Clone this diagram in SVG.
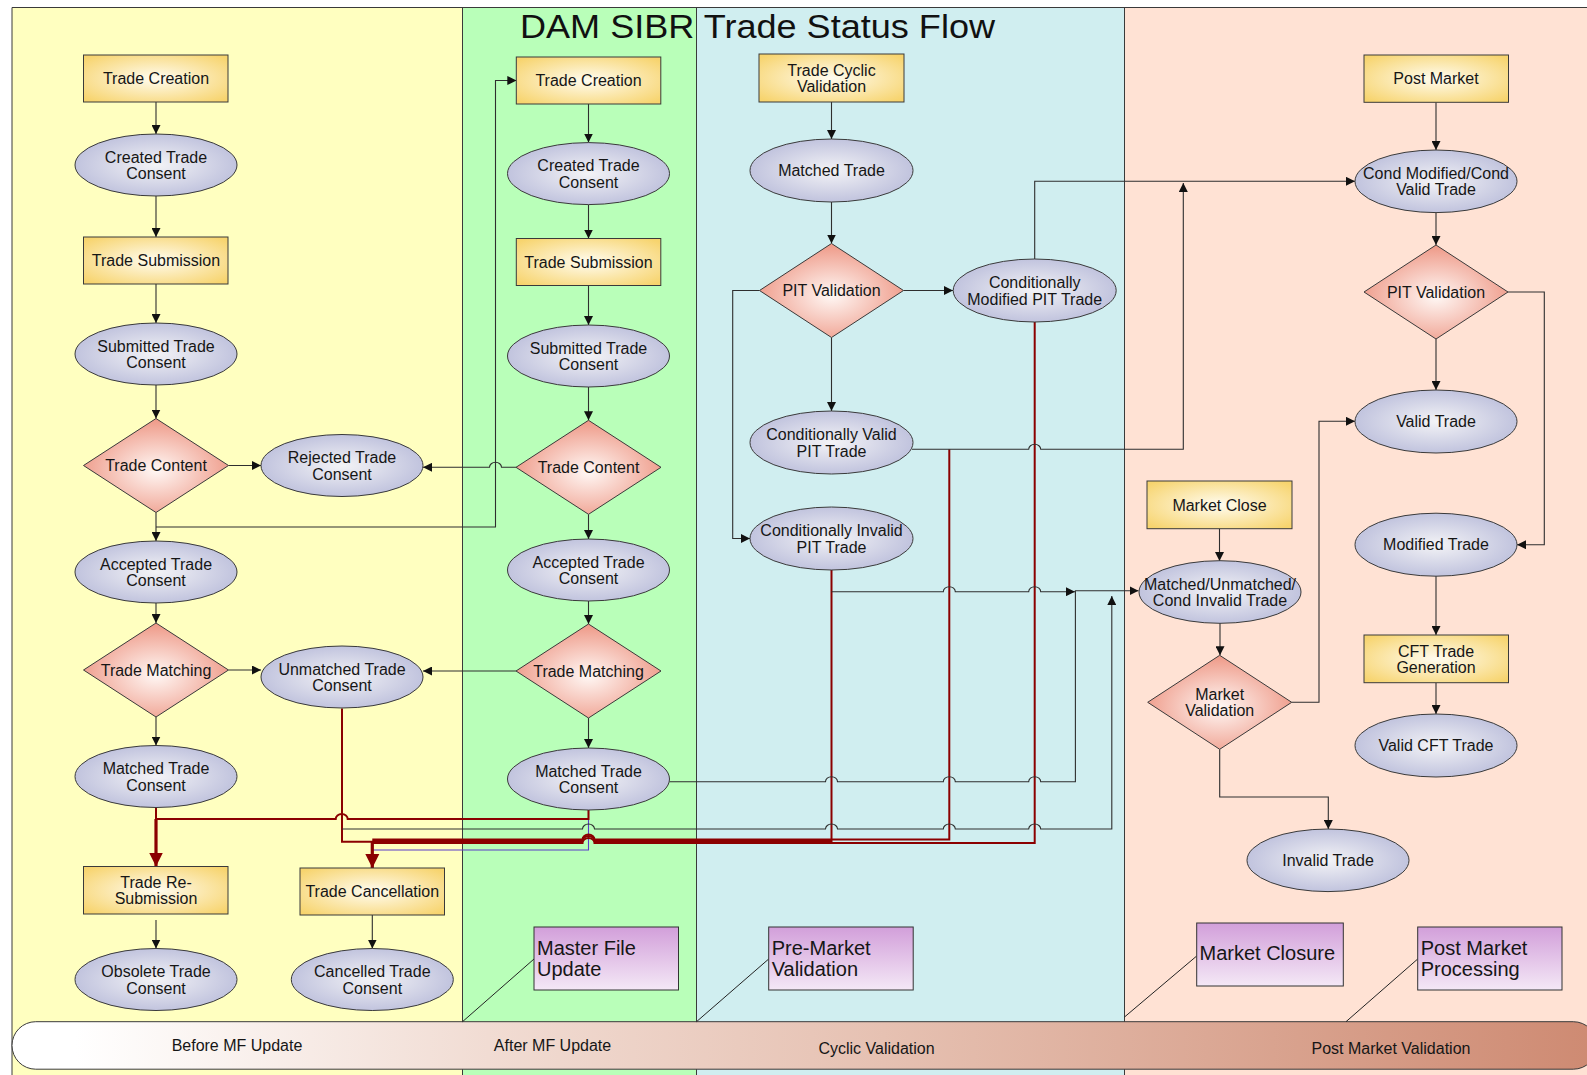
<svg xmlns="http://www.w3.org/2000/svg" width="1587" height="1075" viewBox="0 0 1587 1075">
<defs>
<style>
.box{fill:url(#gBox);stroke:#3a3a3a;stroke-width:1}
.ell{fill:url(#gEll);stroke:#3a3a3a;stroke-width:1}
.dia{fill:url(#gDia);stroke:#3a3a3a;stroke-width:1}
.note{fill:url(#gNote);stroke:#333;stroke-width:1}
.t{font-family:"Liberation Sans",Arial,sans-serif;font-size:16px;fill:#161616;text-anchor:middle}
.tn{font-family:"Liberation Sans",Arial,sans-serif;font-size:20px;fill:#161616;text-anchor:start}
.c{fill:none;stroke:#2e2e2e;stroke-width:1.1}
.pu{fill:none;stroke:#5a3cc8;stroke-width:1.1}
.r{fill:none;stroke:#8b0000;stroke-width:2}
.rt{fill:none;stroke:#8b0000;stroke-width:3.2}
.lane{stroke:none}
.div{stroke:#3a3a3a;stroke-width:1}
.call{stroke:#222;stroke-width:1;fill:none}
</style>
<radialGradient id="gBox" cx="50%" cy="50%" r="65%"><stop offset="0" stop-color="#FFFCF0"/><stop offset="1" stop-color="#F7D46E"/></radialGradient>
<radialGradient id="gEll" cx="50%" cy="50%" r="60%"><stop offset="0" stop-color="#F3F3F6"/><stop offset="1" stop-color="#B7BAD9"/></radialGradient>
<radialGradient id="gDia" cx="50%" cy="55%" r="55%"><stop offset="0" stop-color="#FFF8F5"/><stop offset="1" stop-color="#EE9886"/></radialGradient>
<linearGradient id="gNote" x1="0" y1="0" x2="0" y2="1"><stop offset="0" stop-color="#D29FDA"/><stop offset="1" stop-color="#F4E8F6"/></linearGradient>
<linearGradient id="gPill" x1="0" y1="0" x2="1" y2="0"><stop offset="0" stop-color="#FFFFFF"/><stop offset="0.04" stop-color="#FFFFFF"/><stop offset="0.3" stop-color="#F1DCD3"/><stop offset="0.55" stop-color="#E6C1B2"/><stop offset="1" stop-color="#CE8A72"/></linearGradient>
<marker id="a" viewBox="0 0 10 10" refX="10" refY="5" markerWidth="9" markerHeight="9" markerUnits="userSpaceOnUse" orient="auto"><path d="M0,0 L10,5 L0,10 z" fill="#111"/></marker>
<marker id="ar" viewBox="0 0 10 10" refX="10" refY="5" markerWidth="14" markerHeight="15" markerUnits="userSpaceOnUse" orient="auto"><path d="M0,0 L10,5 L0,10 z" fill="#8b0000"/></marker>
</defs>

<g id="lanes">
<rect x="0" y="0" width="1587" height="1075" fill="#ffffff"/>
<rect class="lane" x="12" y="7.5" width="450.5" height="1067.5" fill="#FFFFC0"/>
<rect class="lane" x="462.5" y="7.5" width="234" height="1067.5" fill="#B9FFB9"/>
<rect class="lane" x="696.5" y="7.5" width="428" height="1067.5" fill="#D0EEF0"/>
<rect class="lane" x="1124.5" y="7.5" width="462.5" height="1067.5" fill="#FFE2D4"/>
<line class="div" x1="12" y1="7.5" x2="1587" y2="7.5"/>
<line class="div" x1="12" y1="7.5" x2="12" y2="1075"/>
<line class="div" x1="462.5" y1="7.5" x2="462.5" y2="1075"/>
<line class="div" x1="696.5" y1="7.5" x2="696.5" y2="1075"/>
<line class="div" x1="1124.5" y1="7.5" x2="1124.5" y2="1075"/>
</g>

<text id="title" x="520" y="37.5" font-family="'Liberation Sans',Arial,sans-serif" font-size="33" fill="#111" textLength="475" lengthAdjust="spacingAndGlyphs">DAM SIBR Trade Status Flow</text>

<g id="phasebar">
<rect x="12" y="1021.7" width="1585" height="47.5" rx="23.7" ry="23.7" fill="url(#gPill)" stroke="#3a3a3a" stroke-width="1"/>
<text class="t" x="237" y="1050.7">Before MF Update</text>
<text class="t" x="552.5" y="1050.7">After MF Update</text>
<text class="t" x="876.5" y="1054">Cyclic Validation</text>
<text class="t" x="1391" y="1054">Post Market Validation</text>
</g>

<g id="connectors">
<!-- yellow lane -->
<path class="c" d="M156,102 V134" marker-end="url(#a)"/>
<path class="c" d="M156,196 V237" marker-end="url(#a)"/>
<path class="c" d="M156,284 V323" marker-end="url(#a)"/>
<path class="c" d="M156,385 V418.5" marker-end="url(#a)"/>
<path class="c" d="M228.5,465.5 H261" marker-end="url(#a)"/>
<path class="c" d="M156,512.5 V541" marker-end="url(#a)"/>
<path class="c" d="M156,527 H495.5 V80.5 H516.3" marker-end="url(#a)"/>
<path class="c" d="M516.3,467.3 H501.5 A6,5 0 0 0 489.5,467.3 H423" marker-end="url(#a)"/>
<path class="c" d="M156,603 V623" marker-end="url(#a)"/>
<path class="c" d="M228.5,670 H261" marker-end="url(#a)"/>
<path class="c" d="M516.3,671 H423" marker-end="url(#a)"/>
<path class="c" d="M156,717 V745.5" marker-end="url(#a)"/>
<path class="c" d="M156,920 V948.5" marker-end="url(#a)"/>
<path class="c" d="M372.3,915 V948.5" marker-end="url(#a)"/>
<!-- green lane -->
<path class="c" d="M588.5,104 V142.5" marker-end="url(#a)"/>
<path class="c" d="M588.5,204.6 V238.5" marker-end="url(#a)"/>
<path class="c" d="M588.5,285.5 V325" marker-end="url(#a)"/>
<path class="c" d="M588.5,387 V420.3" marker-end="url(#a)"/>
<path class="c" d="M588.5,514.3 V539" marker-end="url(#a)"/>
<path class="c" d="M588.5,601 V624" marker-end="url(#a)"/>
<path class="c" d="M588.5,718 V748" marker-end="url(#a)"/>
<!-- red / purple bundle to re-submission and cancellation -->
<path class="pu" d="M588.5,810 V850 H372.3"/>
<path class="r" d="M156,807.5 V819"/>
<path class="r" d="M588.5,810 V819 H347.7 A6,5 0 0 0 335.7,819 H156"/>
<path class="rt" d="M156,819 V866.5" marker-end="url(#ar)"/>
<path class="r" d="M342,708.5 V841.7 H372.3"/>
<path class="r" d="M831.5,570 V841 H594.5 A6,5 0 0 0 582.5,841 H372.3"/>
<path class="r" d="M949.3,449.3 V839.5 H594.5 A6,5 0 0 0 582.5,839.5 H372.3"/>
<path class="r" d="M1034.7,321.5 V843 H594.5 A6,5 0 0 0 582.5,843 H372.3"/>
<path class="rt" d="M372.3,841 V868" marker-end="url(#ar)"/>
<path class="c" d="M342,829 H582.5 A6,5 0 0 1 594.5,829 H825.5 A6,5 0 0 1 837.5,829 H943.3 A6,5 0 0 1 955.3,829 H1028.7 A6,5 0 0 1 1040.7,829 H1111.8 V596" marker-end="url(#a)"/>
<path class="c" d="M669.5,781.7 H825.5 A6,5 0 0 1 837.5,781.7 H943.3 A6,5 0 0 1 955.3,781.7 H1028.7 A6,5 0 0 1 1040.7,781.7 H1075.4 V590.7 H1138.5" marker-end="url(#a)"/>
<!-- cyan lane -->
<path class="c" d="M831.5,102 V139" marker-end="url(#a)"/>
<path class="c" d="M831.5,202 V243.5" marker-end="url(#a)"/>
<path class="c" d="M903.5,290.5 H953" marker-end="url(#a)"/>
<path class="c" d="M831.5,337.5 V411" marker-end="url(#a)"/>
<path class="c" d="M759.5,290.5 H732.7 V538.5 H750" marker-end="url(#a)"/>
<path class="c" d="M1034.7,259 V181.3 H1355" marker-end="url(#a)"/>
<path class="c" d="M912,449.3 H1028.7 A6,5 0 0 1 1040.7,449.3 H1183.3 V183" marker-end="url(#a)"/>
<path class="c" d="M831.5,591.7 H943.3 A6,5 0 0 1 955.3,591.7 H1028.7 A6,5 0 0 1 1040.7,591.7 H1075" marker-end="url(#a)"/>
<!-- peach lane -->
<path class="c" d="M1436,102.3 V150" marker-end="url(#a)"/>
<path class="c" d="M1436,212.7 V245" marker-end="url(#a)"/>
<path class="c" d="M1436,339 V390" marker-end="url(#a)"/>
<path class="c" d="M1508,292 H1544.3 V544.7 H1517" marker-end="url(#a)"/>
<path class="c" d="M1436,576 V635" marker-end="url(#a)"/>
<path class="c" d="M1436,682.7 V714" marker-end="url(#a)"/>
<path class="c" d="M1219.5,528.7 V561" marker-end="url(#a)"/>
<path class="c" d="M1220,623 V655.3" marker-end="url(#a)"/>
<path class="c" d="M1291.7,702.3 H1319 V421.3 H1355" marker-end="url(#a)"/>
<path class="c" d="M1219.7,749.3 V797 H1328.3 V829" marker-end="url(#a)"/>
<!-- callouts -->
<path class="call" d="M534,959 L462.5,1021.7"/>
<path class="call" d="M768.7,959 L696.5,1021.7"/>
<path class="call" d="M1196.7,956 L1124.5,1017"/>
<path class="call" d="M1417.7,959 L1346,1021.7"/>
</g>

<!-- yellow lane nodes -->
<g id="n_tc1"><rect class="box" x="83.5" y="55" width="144.5" height="47"/><text class="t" x="156" y="84">Trade Creation</text></g>
<g id="n_ctc1"><ellipse class="ell" cx="156" cy="165" rx="81" ry="31"/><text class="t" x="156" y="162.5">Created Trade</text><text class="t" x="156" y="179">Consent</text></g>
<g id="n_ts1"><rect class="box" x="83.5" y="237" width="144.5" height="47"/><text class="t" x="156" y="266">Trade Submission</text></g>
<g id="n_stc1"><ellipse class="ell" cx="156" cy="354" rx="81" ry="31"/><text class="t" x="156" y="351.5">Submitted Trade</text><text class="t" x="156" y="368">Consent</text></g>
<g id="n_tcont1"><polygon class="dia" points="156,418.5 228.5,465.5 156,512.5 83.5,465.5"/><text class="t" x="156" y="471">Trade Content</text></g>
<g id="n_rtc"><ellipse class="ell" cx="342" cy="465.5" rx="81" ry="31"/><text class="t" x="342" y="463">Rejected Trade</text><text class="t" x="342" y="479.5">Consent</text></g>
<g id="n_atc1"><ellipse class="ell" cx="156" cy="572" rx="81" ry="31"/><text class="t" x="156" y="569.5">Accepted Trade</text><text class="t" x="156" y="586">Consent</text></g>
<g id="n_tm1"><polygon class="dia" points="156,623 228.5,670 156,717 83.5,670"/><text class="t" x="156" y="675.5">Trade Matching</text></g>
<g id="n_utc"><ellipse class="ell" cx="342" cy="677" rx="81" ry="31"/><text class="t" x="342" y="674.5">Unmatched Trade</text><text class="t" x="342" y="691">Consent</text></g>
<g id="n_mtc1"><ellipse class="ell" cx="156" cy="776.5" rx="81" ry="31"/><text class="t" x="156" y="774">Matched Trade</text><text class="t" x="156" y="790.5">Consent</text></g>
<g id="n_trs"><rect class="box" x="83.5" y="866.5" width="144.5" height="47.5"/><text class="t" x="156" y="887.5">Trade Re-</text><text class="t" x="156" y="904">Submission</text></g>
<g id="n_otc"><ellipse class="ell" cx="156" cy="979.5" rx="81" ry="31"/><text class="t" x="156" y="977">Obsolete Trade</text><text class="t" x="156" y="993.5">Consent</text></g>
<g id="n_tcan"><rect class="box" x="300" y="868" width="144.5" height="47"/><text class="t" x="372.3" y="897">Trade Cancellation</text></g>
<g id="n_cantc"><ellipse class="ell" cx="372.3" cy="979.5" rx="81" ry="31"/><text class="t" x="372.3" y="977">Cancelled Trade</text><text class="t" x="372.3" y="993.5">Consent</text></g>

<!-- green lane nodes -->
<g id="n_tc2"><rect class="box" x="516.3" y="57" width="144.5" height="47"/><text class="t" x="588.5" y="86">Trade Creation</text></g>
<g id="n_ctc2"><ellipse class="ell" cx="588.5" cy="173.6" rx="81" ry="31"/><text class="t" x="588.5" y="171">Created Trade</text><text class="t" x="588.5" y="187.5">Consent</text></g>
<g id="n_ts2"><rect class="box" x="516.3" y="238.5" width="144.5" height="47"/><text class="t" x="588.5" y="267.5">Trade Submission</text></g>
<g id="n_stc2"><ellipse class="ell" cx="588.5" cy="356" rx="81" ry="31"/><text class="t" x="588.5" y="353.5">Submitted Trade</text><text class="t" x="588.5" y="370">Consent</text></g>
<g id="n_tcont2"><polygon class="dia" points="588.5,420.3 661,467.3 588.5,514.3 516,467.3"/><text class="t" x="588.5" y="473">Trade Content</text></g>
<g id="n_atc2"><ellipse class="ell" cx="588.5" cy="570" rx="81" ry="31"/><text class="t" x="588.5" y="567.5">Accepted Trade</text><text class="t" x="588.5" y="584">Consent</text></g>
<g id="n_tm2"><polygon class="dia" points="588.5,624 661,671 588.5,718 516,671"/><text class="t" x="588.5" y="676.5">Trade Matching</text></g>
<g id="n_mtc2"><ellipse class="ell" cx="588.5" cy="779" rx="81" ry="31"/><text class="t" x="588.5" y="776.5">Matched Trade</text><text class="t" x="588.5" y="793">Consent</text></g>
<g id="n_mfu"><rect class="note" x="534" y="927" width="144.5" height="63"/><text class="tn" x="537" y="955">Master File</text><text class="tn" x="537" y="976">Update</text></g>

<!-- cyan lane nodes -->
<g id="n_tcv"><rect class="box" x="759" y="54" width="145" height="48"/><text class="t" x="831.5" y="75.5">Trade Cyclic</text><text class="t" x="831.5" y="92">Validation</text></g>
<g id="n_mt"><ellipse class="ell" cx="831.5" cy="170.5" rx="81.5" ry="31.5"/><text class="t" x="831.5" y="176">Matched Trade</text></g>
<g id="n_pit1"><polygon class="dia" points="831.5,243.5 903.5,290.5 831.5,337.5 759.5,290.5"/><text class="t" x="831.5" y="296">PIT Validation</text></g>
<g id="n_cmpt"><ellipse class="ell" cx="1034.7" cy="290.5" rx="81.5" ry="31.5"/><text class="t" x="1034.7" y="288">Conditionally</text><text class="t" x="1034.7" y="304.5">Modified PIT Trade</text></g>
<g id="n_cvpt"><ellipse class="ell" cx="831.5" cy="442.5" rx="81.5" ry="31.5"/><text class="t" x="831.5" y="440">Conditionally Valid</text><text class="t" x="831.5" y="456.5">PIT Trade</text></g>
<g id="n_cipt"><ellipse class="ell" cx="831.5" cy="538.5" rx="81.5" ry="31.5"/><text class="t" x="831.5" y="536">Conditionally Invalid</text><text class="t" x="831.5" y="552.5">PIT Trade</text></g>
<g id="n_pmv"><rect class="note" x="768.7" y="927" width="144.5" height="63"/><text class="tn" x="771.7" y="955">Pre-Market</text><text class="tn" x="771.7" y="976">Validation</text></g>

<!-- peach lane nodes -->
<g id="n_pm"><rect class="box" x="1364" y="55" width="144.5" height="47.3"/><text class="t" x="1436" y="84.3">Post Market</text></g>
<g id="n_cmcv"><ellipse class="ell" cx="1436" cy="181.3" rx="81" ry="31.3"/><text class="t" x="1436" y="178.8">Cond Modified/Cond</text><text class="t" x="1436" y="195.3">Valid Trade</text></g>
<g id="n_pit2"><polygon class="dia" points="1436,245 1508,292 1436,339 1364,292"/><text class="t" x="1436" y="297.5">PIT Validation</text></g>
<g id="n_vt"><ellipse class="ell" cx="1436" cy="421.5" rx="81" ry="31.5"/><text class="t" x="1436" y="427">Valid Trade</text></g>
<g id="n_mt2"><ellipse class="ell" cx="1436" cy="544.7" rx="81" ry="31.5"/><text class="t" x="1436" y="550.2">Modified Trade</text></g>
<g id="n_cft"><rect class="box" x="1364" y="635" width="144.5" height="47.7"/><text class="t" x="1436" y="656.5">CFT Trade</text><text class="t" x="1436" y="673">Generation</text></g>
<g id="n_vcft"><ellipse class="ell" cx="1436" cy="745.5" rx="81" ry="31.5"/><text class="t" x="1436" y="751">Valid CFT Trade</text></g>
<g id="n_mc"><rect class="box" x="1147" y="481" width="145" height="47.7"/><text class="t" x="1219.5" y="510.5">Market Close</text></g>
<g id="n_mumc"><ellipse class="ell" cx="1220" cy="592" rx="81" ry="31.3"/><text class="t" x="1220" y="589.5">Matched/Unmatched/</text><text class="t" x="1220" y="606">Cond Invalid Trade</text></g>
<g id="n_mv"><polygon class="dia" points="1219.7,655.3 1291.7,702.3 1219.7,749.3 1147.7,702.3"/><text class="t" x="1219.7" y="699.5">Market</text><text class="t" x="1219.7" y="716">Validation</text></g>
<g id="n_it"><ellipse class="ell" cx="1328" cy="860.3" rx="81" ry="31.3"/><text class="t" x="1328" y="866">Invalid Trade</text></g>
<g id="n_mcl"><rect class="note" x="1196.7" y="923" width="146.6" height="63"/><text class="tn" x="1199.5" y="960">Market Closure</text></g>
<g id="n_pmp"><rect class="note" x="1417.7" y="927" width="144.3" height="63"/><text class="tn" x="1420.7" y="955">Post Market</text><text class="tn" x="1420.7" y="976">Processing</text></g>
</svg>
